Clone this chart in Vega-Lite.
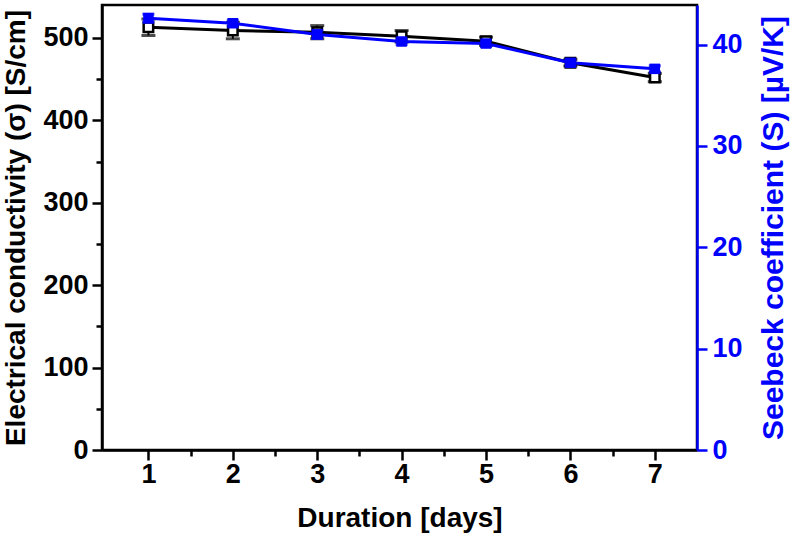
{
  "$schema": "https://vega.github.io/schema/vega-lite/v6.json",
  "autosize": {"type": "none"},
  "padding": {"left": 102, "top": 5, "right": 97, "bottom": 89},
  "width": 595,
  "height": 445,
  "config": {
    "view": {"stroke": "black", "strokeWidth": 2.5},
    "font": "Liberation Sans",
    "axis": {
      "labelFont": "Liberation Sans", "labelFontWeight": "bold", "labelFontSize": 27,
      "titleFont": "Liberation Sans", "titleFontWeight": "bold", "titleFontSize": 28,
      "grid": false, "domainWidth": 2.5, "tickWidth": 2.5
    }
  },
  "data": {"values": [
    {"day": 1, "sigma": 513, "sigma_err": 10, "S": 42.6, "S_err": 0.4},
    {"day": 2, "sigma": 509, "sigma_err": 10, "S": 42.1, "S_err": 0.3},
    {"day": 3, "sigma": 507, "sigma_err": 8, "S": 41.0, "S_err": 0.4},
    {"day": 4, "sigma": 502, "sigma_err": 7, "S": 40.3, "S_err": 0.3},
    {"day": 5, "sigma": 496, "sigma_err": 5, "S": 40.1, "S_err": 0.3},
    {"day": 6, "sigma": 470, "sigma_err": 4, "S": 38.2, "S_err": 0.3},
    {"day": 7, "sigma": 452, "sigma_err": 5, "S": 37.6, "S_err": 0.3}
  ]},
  "encoding": {
    "x": {
      "field": "day", "type": "quantitative",
      "scale": {"domain": [0.45, 7.5], "nice": false, "zero": false},
      "axis": {
        "title": "Duration [days]",
        "values": [1, 1.5, 2, 2.5, 3, 3.5, 4, 4.5, 5, 5.5, 6, 6.5, 7],
        "labelExpr": "datum.value % 1 == 0 ? format(datum.value, 'd') : ''",
        "tickSize": {"condition": {"test": "datum.value % 1 != 0", "value": 6}, "value": 10},
        "labelPadding": 1, "titlePadding": 17, "domainColor": "black", "tickColor": "black", "labelColor": "black", "titleColor": "black"
      }
    }
  },
  "layer": [
    {
      "encoding": {
        "y": {
          "field": "sigma", "type": "quantitative",
          "scale": {"domain": [0, 540], "nice": false},
          "axis": {
            "orient": "left",
            "title": "Electrical conductivity (σ) [S/cm]",
            "values": [0, 50, 100, 150, 200, 250, 300, 350, 400, 450, 500],
            "labelExpr": "datum.value % 100 == 0 ? datum.label : ''",
            "tickSize": {"condition": {"test": "datum.value % 100 != 0", "value": 6}, "value": 10},
            "labelPadding": 4, "titlePadding": 12,
            "domainColor": "black", "tickColor": "black", "labelColor": "black", "titleColor": "black"
          }
        }
      },
      "layer": [
        {
          "mark": {"type": "line", "color": "black", "strokeWidth": 3}
        },
        {
          "mark": {"type": "errorbar", "ticks": {"size": 14, "thickness": 3}, "rule": {"strokeWidth": 2}, "color": "black"},
          "encoding": {
            "yError": {"field": "sigma_err"}
          }
        },
        {
          "mark": {"type": "point", "shape": "square", "filled": true, "fill": "white", "stroke": "black", "strokeWidth": 2.5, "size": 90, "opacity": 1}
        }
      ]
    },
    {
      "encoding": {
        "y": {
          "field": "S", "type": "quantitative",
          "scale": {"domain": [0, 43.9], "nice": false},
          "axis": {
            "orient": "right",
            "title": "Seebeck coefficient (S) [µV/K]",
            "titleAngle": 270,
            "titleBaseline": "top",
            "titleFontSize": 30,
            "values": [0, 10, 20, 30, 40],
            "tickSize": 10,
            "labelPadding": 5, "titlePadding": 16,
            "domainColor": "#0000ff", "tickColor": "#0000ff", "labelColor": "#0000ff", "titleColor": "#0000ff"
          }
        }
      },
      "layer": [
        {
          "mark": {"type": "line", "color": "#0000ff", "strokeWidth": 3}
        },
        {
          "mark": {"type": "errorbar", "ticks": {"size": 12, "thickness": 3}, "rule": {"strokeWidth": 2}, "color": "#0000ff"},
          "encoding": {
            "yError": {"field": "S_err"}
          }
        },
        {
          "mark": {"type": "point", "shape": "square", "filled": true, "color": "#0000ff", "size": 110, "opacity": 1}
        }
      ]
    }
  ],
  "resolve": {"scale": {"y": "independent"}, "axis": {"y": "independent"}}
}
